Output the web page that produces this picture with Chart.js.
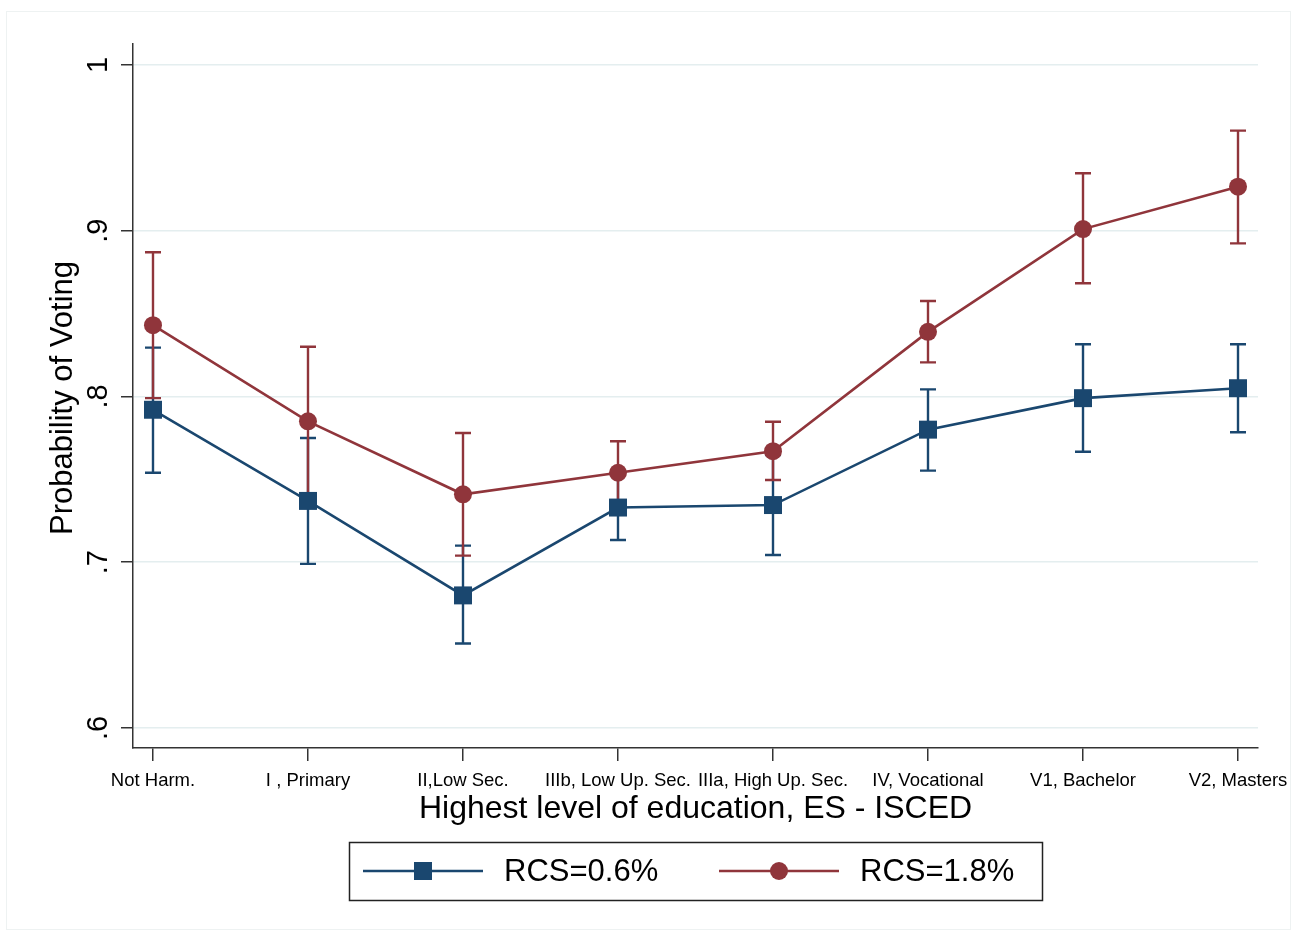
<!DOCTYPE html>
<html>
<head>
<meta charset="utf-8">
<script src="https://cdn.jsdelivr.net/npm/chart.js@4.4.1/dist/chart.umd.min.js"></script>
<style>
  body { margin: 0; background: #fff; }
  canvas { display: block; }
</style>
</head>
<body>
<canvas id="myChart" width="1296" height="940"></canvas>
<script>
// education levels (x axis)
const categories = ['Not Harm.', 'I , Primary', 'II,Low Sec.', 'IIIb, Low Up. Sec.',
                    'IIIa, High Up. Sec.', 'IV, Vocational', 'V1, Bachelor', 'V2, Masters'];
const yTicks = [0.6, 0.7, 0.8, 0.9, 1.0];
const yTickLabels = ['.6', '.7', '.8', '.9', '1'];

// RCS=0.6%
const lowMean = [0.792, 0.737, 0.680, 0.733, 0.7345, 0.780, 0.799, 0.805];
const lowLo   = [0.754, 0.699, 0.651, 0.7134, 0.7044, 0.7553, 0.7667, 0.7784];
const lowHi   = [0.8295, 0.775, 0.710, 0.7528, 0.7646, 0.8043, 0.8315, 0.8315];
// RCS=1.8%
const highMean = [0.843, 0.785, 0.741, 0.754, 0.767, 0.839, 0.901, 0.9266];
const highLo   = [0.799, 0.740, 0.704, 0.735, 0.7496, 0.8206, 0.8683, 0.8924];
const highHi   = [0.887, 0.830, 0.778, 0.773, 0.7848, 0.8576, 0.9347, 0.9604];

const BLUE = '#1a476f';
const RED = '#90353b';
const FONT = '"Liberation Sans", Arial, sans-serif';

function pts(arr){ return arr.map(function(v, i){ return {x: i, y: v}; }); }

const ciSets = [
  {lo: lowLo, hi: lowHi, color: BLUE},
  {lo: highLo, hi: highHi, color: RED}
];

const errorBars = {
  id: 'errorBars',
  beforeDatasetsDraw(chart){
    const c = chart.ctx, xs = chart.scales.x, ys = chart.scales.y;
    c.save();
    c.lineWidth = 2.4;
    ciSets.forEach(function(s){
      c.strokeStyle = s.color;
      for (let i = 0; i < s.lo.length; i++){
        const px = xs.getPixelForValue(i);
        const y1 = ys.getPixelForValue(s.lo[i]);
        const y2 = ys.getPixelForValue(s.hi[i]);
        c.beginPath();
        c.moveTo(px, y1); c.lineTo(px, y2);
        c.moveTo(px - 8, y1); c.lineTo(px + 8, y1);
        c.moveTo(px - 8, y2); c.lineTo(px + 8, y2);
        c.stroke();
      }
    });
    c.restore();
  }
};

const decorations = {
  id: 'decorations',
  afterDraw(chart){
    const c = chart.ctx, ys = chart.scales.y;
    c.save();
    // faint outer frame
    c.strokeStyle = '#eef2f2';
    c.lineWidth = 1;
    c.strokeRect(6.5, 11.5, 1284, 918);

    c.fillStyle = '#000';
    // y tick labels, rotated
    c.font = '29px ' + FONT;
    c.textAlign = 'center';
    c.textBaseline = 'alphabetic';
    yTicks.forEach(function(v, i){
      c.save();
      c.translate(107, ys.getPixelForValue(v));
      c.rotate(-Math.PI / 2);
      c.fillText(yTickLabels[i], 0, 0);
      c.restore();
    });
    // y title
    c.font = '31px ' + FONT;
    c.save();
    c.translate(72, 398);
    c.rotate(-Math.PI / 2);
    c.fillText('Probability of Voting', 0, 0);
    c.restore();
    // x title
    c.font = '32px ' + FONT;
    c.fillText('Highest level of education, ES - ISCED', 695.5, 818);

    // legend
    c.strokeStyle = '#222';
    c.lineWidth = 1.5;
    c.strokeRect(349.5, 842.5, 693, 58);
    c.lineWidth = 2.5;
    c.strokeStyle = BLUE;
    c.beginPath(); c.moveTo(363, 871); c.lineTo(483, 871); c.stroke();
    c.fillStyle = BLUE;
    c.fillRect(414, 862, 18, 18);
    c.strokeStyle = RED;
    c.beginPath(); c.moveTo(719, 871); c.lineTo(839, 871); c.stroke();
    c.fillStyle = RED;
    c.beginPath(); c.arc(779, 871, 9, 0, Math.PI * 2); c.fill();
    c.fillStyle = '#000';
    c.font = '31px ' + FONT;
    c.textAlign = 'left';
    c.textBaseline = 'middle';
    c.fillText('RCS=0.6%', 504, 872);
    c.fillText('RCS=1.8%', 860, 872);
    c.restore();
  }
};

const ctx = document.getElementById('myChart');
const chart = new Chart(ctx, {
  type: 'line',
  data: {
    datasets: [
      {
        label: 'RCS=0.6%',
        data: pts(lowMean),
        borderColor: BLUE,
        backgroundColor: BLUE,
        pointBackgroundColor: BLUE,
        pointStyle: 'rect',
        pointRadius: 12.7,
        pointBorderWidth: 0,
        borderWidth: 2.6,
        order: 1
      },
      {
        label: 'RCS=1.8%',
        data: pts(highMean),
        borderColor: RED,
        backgroundColor: RED,
        pointBackgroundColor: RED,
        pointStyle: 'circle',
        pointRadius: 9,
        pointBorderWidth: 0,
        borderWidth: 2.6,
        order: 0
      }
    ]
  },
  options: {
    responsive: false,
    animation: false,
    layout: { padding: { top: 44, right: 38, left: 0, bottom: 0 } },
    plugins: {
      legend: { display: false },
      tooltip: { enabled: false }
    },
    scales: {
      x: {
        type: 'linear',
        min: -0.129,
        max: 7.129,
        afterBuildTicks: function(scale){
          scale.ticks = categories.map(function(c, i){ return {value: i}; });
        },
        afterFit: function(scale){
          scale.height = 192;
          scale.paddingLeft = 0;
          scale.paddingRight = 0;
        },
        ticks: {
          autoSkip: false,
          maxRotation: 0,
          minRotation: 0,
          padding: 9,
          color: '#000',
          font: { family: FONT, size: 18.5 },
          callback: function(val){ return categories[val]; }
        },
        grid: {
          drawOnChartArea: false,
          drawTicks: true,
          tickLength: 13,
          tickColor: '#333',
          lineWidth: 1.5
        },
        border: { color: '#333', width: 1.5 }
      },
      y: {
        min: 0.58793,
        max: 1.01267,
        afterBuildTicks: function(scale){
          scale.ticks = yTicks.map(function(v){ return {value: v}; });
        },
        afterFit: function(scale){
          scale.width = 133;
          scale.paddingTop = 0;
          scale.paddingBottom = 0;
        },
        ticks: { display: false },
        grid: {
          color: '#e4eeef',
          lineWidth: 1.5,
          tickColor: '#333',
          tickLength: 12
        },
        border: { color: '#333', width: 1.5 }
      }
    }
  },
  plugins: [errorBars, decorations]
});
</script>
</body>
</html>
